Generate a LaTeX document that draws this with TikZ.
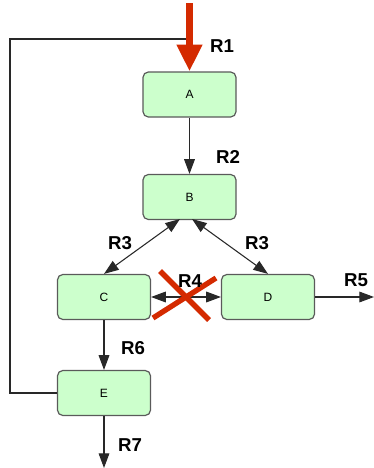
\documentclass[tikz,border=0pt]{standalone}
\usepackage{fontspec}
\setmainfont{Liberation Sans}
\usetikzlibrary{arrows.meta}
\definecolor{boxfill}{RGB}{204,255,204}
\definecolor{boxline}{RGB}{90,90,90}
\definecolor{flowline}{RGB}{40,40,40}
\definecolor{alarm}{RGB}{212,42,0}
\begin{document}
\begin{tikzpicture}[x=0.75pt,y=-0.75pt,
  stage/.style={draw=boxline,fill=boxfill,line width=0.9pt,rounded corners=4pt,
    minimum width=69.75pt,minimum height=33.75pt,inner sep=0pt,font=\fontsize{9}{10}\selectfont},
  flow/.style={draw=flowline,line width=0.8pt},
  tip/.style={-{Triangle[width=8pt,length=11pt]}},
  twotip/.style={{Triangle[width=8pt,length=11pt]}-{Triangle[width=8pt,length=11pt]}},
  rlabel/.style={font=\fontsize{14}{16}\selectfont\bfseries,inner sep=0pt}]
\useasboundingbox (0,0) rectangle (374,468);
\fill[white] (0,0) rectangle (374,468);

% process stages
\node[stage] (A) at (189.5,94.5) {A};
\node[stage] (B) at (189.5,197) {B};
\node[stage] (C) at (104,297) {C};
\node[stage] (D) at (268,297) {D};
\node[stage] (E) at (104,393) {E};

% outer ends of the open connectors
\coordinate (in) at (189.5,3);
\coordinate (loop) at (186,39);
\coordinate (out5) at (374,297);
\coordinate (out7) at (104,468);

% recycle line from E back to the feed
\draw[flow] (E.west) -- (10,393) -- (10,39) -- (loop);

% feed into A
\draw[alarm,line width=5.25pt,-{Triangle[width=18pt,length=20pt]}] (in) -- (A.north);

% connectors between stages
\draw[flow,tip] (A) -- (B);
\draw[flow,twotip] (180,219) -- (C.north);
\draw[flow,twotip] (192,219) -- (D.north);
\draw[flow,twotip] (C) -- (D);
\draw[flow,tip] (D.east) -- (out5);
\draw[flow,tip] (C) -- (E);
\draw[flow,tip] (E.south) -- (out7);

% blocked link between C and D
\draw[alarm,line width=4pt] (160,271) -- (209,320);
\draw[alarm,line width=4pt] (153,318) -- (216,278);

% labels
\node[rlabel] at (222,46) {R1};
\node[rlabel] at (228,157) {R2};
\node[rlabel] at (120,243) {R3};
\node[rlabel] at (257,243) {R3};
\node[rlabel] at (190,281) {R4};
\node[rlabel] at (356,280) {R5};
\node[rlabel] at (133,348) {R6};
\node[rlabel] at (130,445) {R7};
\end{tikzpicture}
\end{document}
